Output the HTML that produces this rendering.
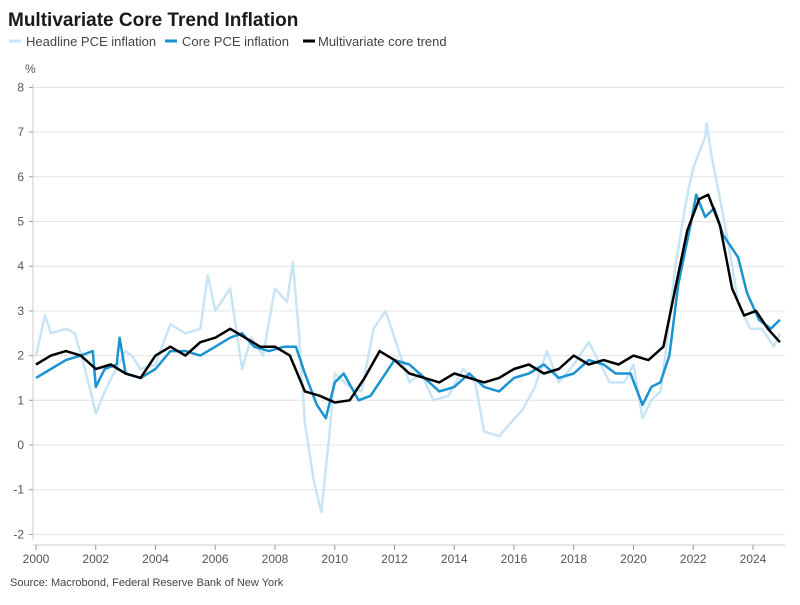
<!DOCTYPE html>
<html><head><meta charset="utf-8"><style>
body{margin:0;background:#fff;width:800px;height:600px;overflow:hidden;font-family:"Liberation Sans",sans-serif}
</style></head><body>
<svg id="s" width="800" height="600" xmlns="http://www.w3.org/2000/svg" font-family="Liberation Sans, sans-serif">
<text x="8" y="26" font-size="19" font-weight="bold" fill="#1a1a1a">Multivariate Core Trend Inflation</text>
<line x1="9" y1="41" x2="21" y2="41" stroke="#c8e4f5" stroke-width="3"/>
<text x="26" y="46" font-size="13" fill="#444">Headline PCE inflation</text>
<line x1="165" y1="41" x2="177" y2="41" stroke="#1a93d0" stroke-width="3"/>
<text x="182" y="46" font-size="13" fill="#444">Core PCE inflation</text>
<line x1="303" y1="41" x2="315" y2="41" stroke="#000" stroke-width="3"/>
<text x="318" y="46" font-size="13" fill="#444">Multivariate core trend</text>
<text x="25" y="73" font-size="12" fill="#555">%</text>
<line x1="33" y1="84" x2="33" y2="540" stroke="#ccc"/>
<line x1="33" y1="545" x2="785" y2="545" stroke="#ccc"/>
<g id="g"></g>
<text x="10" y="586" font-size="11" fill="#444">Source: Macrobond, Federal Reserve Bank of New York</text>
</svg>
<script>
const X=y=>36+(y-2000)*29.875, Y=v=>445-v*44.7;
let h='';
for(let v=-2;v<=8;v++){h+=`<line x1="33" y1="${Y(v)}" x2="785" y2="${Y(v)}" stroke="#e3e3e3"/><line x1="29" y1="${Y(v)}" x2="33" y2="${Y(v)}" stroke="#999"/><text x="24" y="${Y(v)+4}" font-size="12" fill="#555" text-anchor="end">${v}</text>`;}
for(let yr=2000;yr<=2024;yr+=2){h+=`<line x1="${X(yr)}" y1="545" x2="${X(yr)}" y2="550" stroke="#999"/><text x="${X(yr)}" y="563" font-size="12" fill="#555" text-anchor="middle">${yr}</text>`;}
function P(a,c,w){let p=[];for(let i=0;i<a.length;i+=2)p.push(X(a[i]).toFixed(1)+','+Y(a[i+1]).toFixed(1));return `<polyline points="${p.join(' ')}" fill="none" stroke="${c}" stroke-width="${w}" stroke-linejoin="round"/>`;}
const H=[2000,2.0,2000.3,2.9,2000.5,2.5,2001,2.6,2001.3,2.5,2001.6,1.8,2001.9,1.0,2002.0,0.7,2002.3,1.2,2002.6,1.6,2003.0,2.1,2003.2,2.0,2003.5,1.7,2004.0,1.8,2004.5,2.7,2005.0,2.5,2005.5,2.6,2005.75,3.8,2006.0,3.0,2006.5,3.5,2006.9,1.7,2007.2,2.4,2007.6,2.0,2008.0,3.5,2008.4,3.2,2008.6,4.1,2008.8,2.5,2009.0,0.5,2009.3,-0.8,2009.55,-1.5,2009.8,0.1,2010.0,1.6,2010.5,1.3,2010.9,1.2,2011.3,2.6,2011.7,3.0,2012.0,2.4,2012.5,1.4,2012.9,1.6,2013.3,1.0,2013.8,1.1,2014.3,1.7,2014.7,1.4,2015.0,0.3,2015.5,0.2,2015.9,0.5,2016.3,0.8,2016.7,1.3,2017.1,2.1,2017.5,1.4,2018.0,1.8,2018.5,2.3,2018.9,1.8,2019.2,1.4,2019.7,1.4,2020.0,1.8,2020.3,0.6,2020.6,1.0,2020.9,1.2,2021.1,2.2,2021.4,4.0,2021.8,5.6,2022.0,6.2,2022.4,6.9,2022.45,7.2,2022.6,6.5,2022.9,5.5,2023.2,4.4,2023.5,3.2,2023.9,2.6,2024.3,2.6,2024.7,2.2,2024.9,2.5];
const C=[2000,1.5,2000.5,1.7,2001,1.9,2001.5,2.0,2001.9,2.1,2002.0,1.3,2002.3,1.7,2002.7,1.8,2002.8,2.4,2003.0,1.6,2003.5,1.5,2004.0,1.7,2004.5,2.1,2005.0,2.1,2005.5,2.0,2006.0,2.2,2006.5,2.4,2006.9,2.5,2007.3,2.2,2007.8,2.1,2008.3,2.2,2008.7,2.2,2009.0,1.6,2009.4,0.9,2009.7,0.6,2010.0,1.4,2010.3,1.6,2010.8,1.0,2011.2,1.1,2011.6,1.5,2012.0,1.9,2012.5,1.8,2013.0,1.5,2013.5,1.2,2014.0,1.3,2014.5,1.6,2015.0,1.3,2015.5,1.2,2016.0,1.5,2016.5,1.6,2017.0,1.8,2017.5,1.5,2018.0,1.6,2018.5,1.9,2019.0,1.8,2019.4,1.6,2019.9,1.6,2020.3,0.9,2020.6,1.3,2020.9,1.4,2021.2,2.0,2021.5,3.6,2021.9,4.9,2022.1,5.6,2022.4,5.1,2022.7,5.3,2023.0,4.7,2023.5,4.2,2023.8,3.4,2024.2,2.8,2024.6,2.6,2024.9,2.8];
const M=[2000,1.8,2000.5,2.0,2001,2.1,2001.5,2.0,2002,1.7,2002.5,1.8,2003,1.6,2003.5,1.5,2004,2.0,2004.5,2.2,2005,2.0,2005.5,2.3,2006,2.4,2006.5,2.6,2007,2.4,2007.5,2.2,2008,2.2,2008.5,2.0,2009,1.2,2009.5,1.1,2010,0.95,2010.5,1.0,2011,1.5,2011.5,2.1,2012,1.9,2012.5,1.6,2013,1.5,2013.5,1.4,2014,1.6,2014.5,1.5,2015,1.4,2015.5,1.5,2016,1.7,2016.5,1.8,2017,1.6,2017.5,1.7,2018,2.0,2018.5,1.8,2019,1.9,2019.5,1.8,2020,2.0,2020.5,1.9,2021,2.2,2021.4,3.5,2021.8,4.8,2022.2,5.5,2022.5,5.6,2022.9,4.9,2023.3,3.5,2023.7,2.9,2024.1,3.0,2024.5,2.6,2024.9,2.3];
h+=P(H,'#c8e4f5',2.5)+P(C,'#1a93d0',2.5)+P(M,'#000',2.5);
document.getElementById('g').innerHTML=h;
</script>
</body></html>
